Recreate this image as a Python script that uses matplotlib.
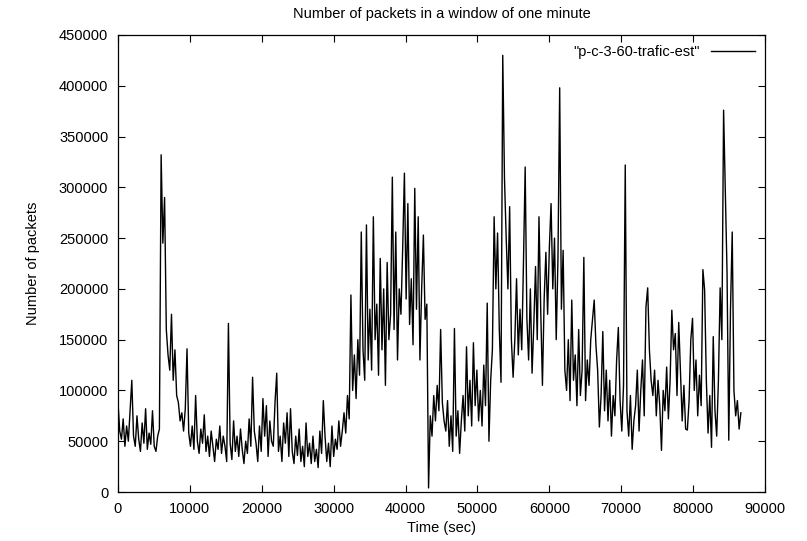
"""
Packets per one-minute window over a day (gnuplot-style line chart).
"""
import numpy as np
import matplotlib
matplotlib.use("Agg")
import matplotlib.pyplot as plt

# sampling step of the series (sec)
step_sec = 240

# packets per window, in thousands, one row per 2400 s
packets_k = [
    88, 60, 52, 72, 45, 65, 50, 80, 110, 55,
    45, 75, 52, 40, 68, 48, 82, 42, 58, 47,
    80, 45, 40, 55, 62, 332, 245, 290, 160, 135,
    120, 175, 110, 140, 95, 88, 70, 78, 60, 82,
    141, 58, 45, 65, 42, 95, 50, 38, 62, 48,
    76, 40, 55, 35, 60, 45, 30, 52, 42, 65,
    38, 55, 45, 30, 166, 48, 32, 70, 40, 55,
    35, 62, 42, 28, 50, 38, 72, 45, 113, 60,
    48, 30, 65, 40, 92, 55, 85, 35, 70, 50,
    45, 88, 117, 40, 55, 30, 68, 48, 78, 35,
    82, 40, 28, 55, 36, 62, 30, 45, 25, 68,
    35, 48, 28, 55, 30, 42, 24, 60, 38, 90,
    55, 30, 48, 25, 65, 35, 52, 42, 70, 45,
    60, 78, 58, 95, 72, 194, 100, 135, 92, 150,
    115, 256, 140, 110, 263, 130, 180, 120, 271, 150,
    185, 115, 230, 140, 200, 105, 226, 150, 175, 310,
    160, 256, 130, 200, 175, 240, 314, 190, 284, 165,
    210, 145, 299, 180, 271, 130, 200, 253, 170, 185,
    4, 75, 55, 95, 70, 105, 80, 160, 88, 70,
    60, 90, 45, 75, 40, 161, 55, 80, 38, 70,
    95, 60, 143, 75, 110, 65, 147, 85, 120, 70,
    100, 65, 125, 85, 186, 50, 110, 140, 271, 200,
    255, 160, 108, 430, 309, 250, 200, 281, 150, 113,
    150, 210, 135, 180, 140, 225, 320, 170, 130, 200,
    117, 165, 222, 150, 271, 180, 105, 190, 236, 175,
    240, 284, 200, 250, 150, 230, 398, 180, 238, 120,
    100, 150, 90, 189, 110, 135, 85, 160, 95, 120,
    231, 90, 130, 105, 150, 170, 189, 145, 120, 64,
    95, 158, 80, 120, 70, 110, 55, 95, 75, 130,
    162, 90, 60, 105, 322, 80, 55, 95, 42, 70,
    85, 120, 60, 100, 130, 75, 182, 201, 140, 110,
    95, 120, 75, 110, 85, 41, 100, 80, 123, 72,
    110, 179, 140, 156, 95, 167, 120, 70, 105, 62,
    61, 90, 150, 171, 100, 130, 75, 115, 85, 219,
    199, 110, 58, 95, 44, 153, 80, 55, 110, 201,
    150, 376, 297, 216, 51, 180, 256, 100, 75, 90,
    62, 78,
]

x_ticks = [0, 10000, 20000, 30000, 40000, 50000, 60000, 70000, 80000, 90000]
y_ticks = [0, 50000, 100000, 150000, 200000, 250000, 300000, 350000, 400000, 450000]

packets = np.array(packets_k) * 1000
t = np.arange(len(packets)) * step_sec

plt.rcParams['font.family'] = ['Liberation Sans', 'DejaVu Sans']
plt.rcParams['font.size'] = 10.5

W, H = 807, 541
fig = plt.figure(figsize=(W / 100, H / 100), dpi=100)
left, right, top, bottom = 118, 765, 35, 492
ax = fig.add_axes([left / W, 1 - bottom / H, (right - left) / W, (bottom - top) / H])

ax.plot(t, packets, color='black', linewidth=1.0, label='"p-c-3-60-trafic-est"')

ax.set_xlim(0, 90000)
ax.set_ylim(0, 450000)
ax.set_xticks(x_ticks)
ax.set_yticks(y_ticks)
ax.set_xticklabels([str(v) for v in x_ticks])
ax.set_yticklabels([str(v) for v in y_ticks])
ax.tick_params(direction='in', length=5, width=0.8, top=True, right=True, pad=7)
for sp in ax.spines.values():
    sp.set_linewidth(0.9)

ax.set_xlabel('Time (sec)')
ax.xaxis.label.set_va('center')
ax.xaxis.set_label_coords(0.5, (bottom - 528) / (bottom - top))
ax.set_ylabel('Number of packets')
ax.yaxis.label.set_va('center')
ax.yaxis.set_label_coords((33 - left) / (right - left), 0.5)

# title sits above the frame, centred on the plot area
fig.text((left + right) / 2 / W, 1 - 14 / H,
         'Number of packets in a window of one minute', ha='center', va='center')

ax.legend(loc='upper right', frameon=False, markerfirst=False,
          handlelength=3.0, borderaxespad=0.3, handletextpad=0.8)

fig.savefig('out.png', dpi=100)
